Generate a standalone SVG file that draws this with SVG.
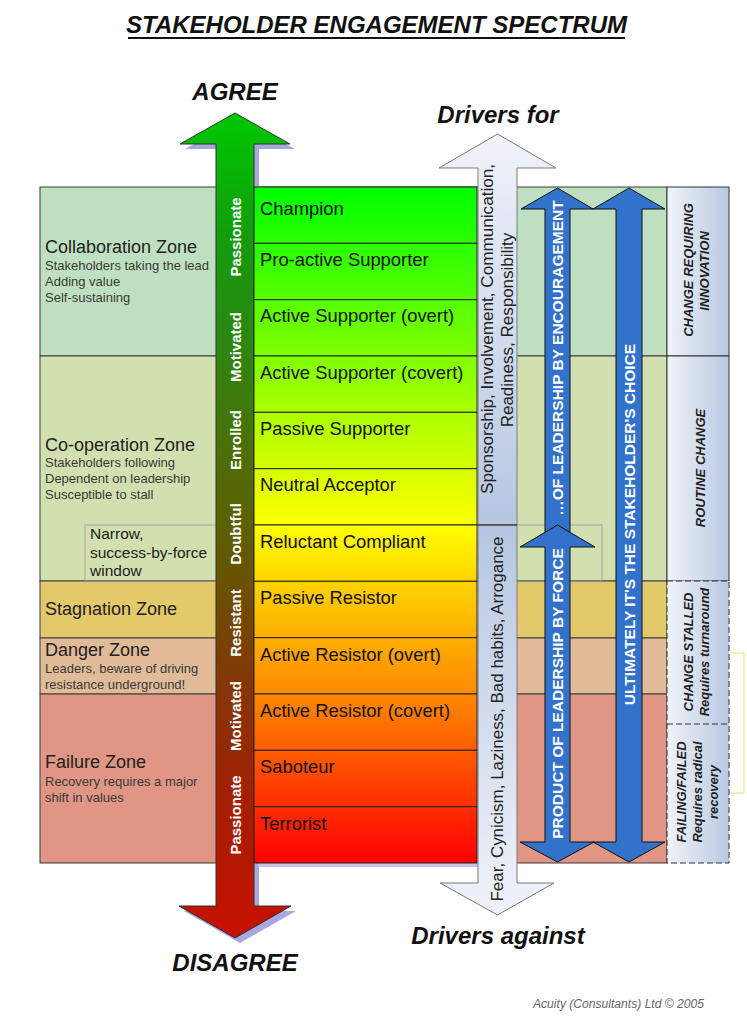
<svg xmlns="http://www.w3.org/2000/svg" width="747" height="1024" viewBox="0 0 747 1024">
<style>
.zone{stroke:#3a3a3a;stroke-width:1}
.zt{font-family:"Liberation Sans",Arial,sans-serif;font-size:18px;fill:#222}
.zs{font-family:"Liberation Sans",Arial,sans-serif;font-size:13px;fill:#3a3a3a}
.nt{font-family:"Liberation Sans",Arial,sans-serif;font-size:15.5px;fill:#222}
.st{font-family:"Liberation Sans",Arial,sans-serif;font-size:18.4px;fill:#111}
.srow{fill:url(#stateGrad);stroke:#222;stroke-width:1}
.lbl{font-family:"Liberation Sans",Arial,sans-serif;font-size:15px;font-weight:bold;fill:#fff;text-anchor:middle}
.blue{fill:#3372cb;stroke:#111;stroke-width:1}
.bt{font-family:"Liberation Sans",Arial,sans-serif;font-size:15.5px;font-weight:bold;fill:#fff;text-anchor:middle}
.dt{font-family:"Liberation Sans",Arial,sans-serif;font-size:17px;fill:#222;text-anchor:middle}
.big{font-family:"Liberation Sans",Arial,sans-serif;font-size:24px;font-weight:bold;font-style:italic;fill:#111;text-anchor:middle}
.rc{fill:url(#colGrad);stroke:#333;stroke-width:1}
.rt{font-family:"Liberation Sans",Arial,sans-serif;font-size:13px;font-weight:bold;font-style:italic;fill:#222;text-anchor:middle}
.drv{stroke:#7a7a7a;stroke-width:1}
</style>
<defs>
<linearGradient id="stateGrad" gradientUnits="userSpaceOnUse" x1="0" y1="187" x2="0" y2="863">
<stop offset="0" stop-color="#00ff00"/>
<stop offset="0.5" stop-color="#ffff00"/>
<stop offset="0.6" stop-color="#ffcc00"/>
<stop offset="0.75" stop-color="#ff8a00"/>
<stop offset="1" stop-color="#ff0000"/>
</linearGradient>
<linearGradient id="armGrad" gradientUnits="userSpaceOnUse" x1="0" y1="113" x2="0" y2="938">
<stop offset="0" stop-color="#00c800"/>
<stop offset="0.15" stop-color="#139c0c"/>
<stop offset="0.28" stop-color="#2d8610"/>
<stop offset="0.4" stop-color="#4a7008"/>
<stop offset="0.51" stop-color="#5e5e00"/>
<stop offset="0.62" stop-color="#744600"/>
<stop offset="0.73" stop-color="#8c3008"/>
<stop offset="0.85" stop-color="#a81c00"/>
<stop offset="1" stop-color="#c81000"/>
</linearGradient>
<linearGradient id="drvUp" gradientUnits="userSpaceOnUse" x1="0" y1="134" x2="0" y2="525">
<stop offset="0" stop-color="#f0f3fa"/>
<stop offset="1" stop-color="#b6c6e1"/>
</linearGradient>
<linearGradient id="drvDown" gradientUnits="userSpaceOnUse" x1="0" y1="525" x2="0" y2="915">
<stop offset="0" stop-color="#b6c6e1"/>
<stop offset="1" stop-color="#f0f3fa"/>
</linearGradient>
<linearGradient id="colGrad" x1="0" y1="0" x2="1" y2="0">
<stop offset="0" stop-color="#f0f3f9"/>
<stop offset="1" stop-color="#b8c8e2"/>
</linearGradient>
</defs>

<rect width="747" height="1024" fill="#fff"/>

<!-- Title -->
<text x="376.5" y="33" class="big">STAKEHOLDER ENGAGEMENT SPECTRUM</text>
<line x1="128" y1="38" x2="625" y2="38" stroke="#111" stroke-width="2"/>

<!-- Zones -->
<g id="zone-collaboration">
<rect class="zone" x="40" y="187" width="627" height="169" fill="#bfe0c0"/>
<text class="zt" x="45" y="253">Collaboration Zone</text>
<text class="zs" x="45" y="270">Stakeholders taking the lead</text>
<text class="zs" x="45" y="286">Adding value</text>
<text class="zs" x="45" y="302">Self-sustaining</text>
</g>
<g id="zone-cooperation">
<rect class="zone" x="40" y="356" width="627" height="225" fill="#d2e0b0"/>
<text class="zt" x="45" y="451">Co-operation Zone</text>
<text class="zs" x="45" y="467">Stakeholders following</text>
<text class="zs" x="45" y="483">Dependent on leadership</text>
<text class="zs" x="45" y="499">Susceptible to stall</text>
</g>
<g id="zone-stagnation">
<rect class="zone" x="40" y="581" width="627" height="57" fill="#e3c96a"/>
<text class="zt" x="45" y="615">Stagnation Zone</text>
</g>
<g id="zone-danger">
<rect class="zone" x="40" y="638" width="627" height="56" fill="#e1ba98"/>
<text class="zt" x="45" y="656">Danger Zone</text>
<text class="zs" x="45" y="673">Leaders, beware of driving</text>
<text class="zs" x="45" y="689">resistance underground!</text>
</g>
<g id="zone-failure">
<rect class="zone" x="40" y="694" width="627" height="169" fill="#e09585"/>
<text class="zt" x="45" y="768">Failure Zone</text>
<text class="zs" x="45" y="786">Recovery requires a major</text>
<text class="zs" x="45" y="802">shift in values</text>
</g>
<g id="narrow-window">
<rect x="85" y="525" width="517" height="56" fill="none" stroke="#9a9a9a" stroke-width="0.8"/>
<text class="nt" x="90" y="539">Narrow,</text>
<text class="nt" x="90" y="557.5">success-by-force</text>
<text class="nt" x="90" y="576">window</text>
</g>

<!-- Right column -->
<g id="col-innovation">
<rect class="rc" x="667" y="187" width="62" height="169"/>
<text class="rt" transform="translate(692.5,270) rotate(-90)">CHANGE REQUIRING</text>
<text class="rt" transform="translate(708.5,271) rotate(-90)">INNOVATION</text>
</g>
<g id="col-routine">
<rect class="rc" x="667" y="356" width="62" height="225"/>
<text class="rt" transform="translate(704.5,468) rotate(-90)">ROUTINE CHANGE</text>
</g>
<g id="col-stalled">
<rect x="667" y="581" width="62" height="282" fill="url(#colGrad)" stroke="#333" stroke-width="1" stroke-dasharray="6,3"/>
<line x1="667" y1="724" x2="729" y2="724" stroke="#333" stroke-width="1" stroke-dasharray="6,3"/>
<text class="rt" transform="translate(692.5,652) rotate(-90)">CHANGE STALLED</text>
<text class="rt" transform="translate(708.5,652) rotate(-90)">Requires turnaround</text>
</g>
<g id="col-failing">
<text class="rt" transform="translate(685.5,792) rotate(-90)">FAILING/FAILED</text>
<text class="rt" transform="translate(701.5,792) rotate(-90)">Requires radical</text>
<text class="rt" transform="translate(717.5,792) rotate(-90)">recovery</text>
</g>
<polyline points="730,653 744,653 744,793 730,793" fill="none" stroke="#e4de6a" stroke-width="1"/>

<!-- Agree / Disagree arrow -->
<g id="agree-arrow">
<path d="M240,118 L295,149 L259,149 L259,911 L296,911 L240,943 L184,911 L221,911 L221,149 L185,149 Z" fill="#a8a8de"/>
<path d="M235,113 L290,144 L254,144 L254,906 L291,906 L235,938 L179,906 L216,906 L216,144 L180,144 Z" fill="url(#armGrad)" stroke="#333" stroke-width="1"/>
<text class="lbl" transform="translate(240.5,237) rotate(-90)">Passionate</text>
<text class="lbl" transform="translate(240.5,347) rotate(-90)">Motivated</text>
<text class="lbl" transform="translate(240.5,440) rotate(-90)">Enrolled</text>
<text class="lbl" transform="translate(240.5,534) rotate(-90)">Doubtful</text>
<text class="lbl" transform="translate(240.5,623) rotate(-90)">Resistant</text>
<text class="lbl" transform="translate(240.5,716) rotate(-90)">Motivated</text>
<text class="lbl" transform="translate(240.5,815) rotate(-90)">Passionate</text>
<text class="big" x="235" y="100">AGREE</text>
<text class="big" x="235" y="971">DISAGREE</text>
</g>

<!-- States -->
<rect x="258" y="191" width="223" height="676" fill="#c2c4ea"/>
<g id="state-champion"><rect class="srow" x="254" y="187" width="223" height="56.3"/><text class="st" x="260" y="215">Champion</text></g>
<g id="state-proactive"><rect class="srow" x="254" y="243.3" width="223" height="56.4"/><text class="st" x="260" y="266">Pro-active Supporter</text></g>
<g id="state-active-overt"><rect class="srow" x="254" y="299.7" width="223" height="56.3"/><text class="st" x="260" y="322">Active Supporter (overt)</text></g>
<g id="state-active-covert"><rect class="srow" x="254" y="356" width="223" height="56.3"/><text class="st" x="260" y="379">Active Supporter (covert)</text></g>
<g id="state-passive-supporter"><rect class="srow" x="254" y="412.3" width="223" height="56.4"/><text class="st" x="260" y="435">Passive Supporter</text></g>
<g id="state-neutral"><rect class="srow" x="254" y="468.7" width="223" height="56.3"/><text class="st" x="260" y="491">Neutral Acceptor</text></g>
<g id="state-reluctant"><rect class="srow" x="254" y="525" width="223" height="56.3"/><text class="st" x="260" y="548">Reluctant Compliant</text></g>
<g id="state-passive-resistor"><rect class="srow" x="254" y="581.3" width="223" height="56.4"/><text class="st" x="260" y="604">Passive Resistor</text></g>
<g id="state-resistor-overt"><rect class="srow" x="254" y="637.7" width="223" height="56.3"/><text class="st" x="260" y="661">Active Resistor (overt)</text></g>
<g id="state-resistor-covert"><rect class="srow" x="254" y="694" width="223" height="56.3"/><text class="st" x="260" y="717">Active Resistor (covert)</text></g>
<g id="state-saboteur"><rect class="srow" x="254" y="750.3" width="223" height="56.4"/><text class="st" x="260" y="773">Saboteur</text></g>
<g id="state-terrorist"><rect class="srow" x="254" y="806.7" width="223" height="56.3"/><text class="st" x="260" y="830">Terrorist</text></g>

<!-- Drivers arrows -->
<g id="drivers-for">
<path class="drv" d="M497.5,134 L556,168 L517,168 L517,525 L478,525 L478,168 L439,168 Z" fill="url(#drvUp)"/>
<text class="dt" transform="translate(493,329) rotate(-90)" textLength="330" lengthAdjust="spacingAndGlyphs">Sponsorship, Involvement, Communication,</text>
<text class="dt" transform="translate(513,330) rotate(-90)">Readiness, Responsibility</text>
<text class="big" x="498" y="123">Drivers for</text>
</g>
<g id="drivers-against">
<path class="drv" d="M478,525 L517,525 L517,883 L554,883 L497.5,915 L440,883 L478,883 Z" fill="url(#drvDown)"/>
<line x1="477" y1="525" x2="517" y2="525" stroke="#222" stroke-width="1"/>
<text class="dt" transform="translate(503,719) rotate(-90)" textLength="365" lengthAdjust="spacingAndGlyphs">Fear, Cynicism, Laziness, Bad habits, Arrogance</text>
<text class="big" x="498" y="944">Drivers against</text>
</g>

<!-- Leadership arrows -->
<g id="connectors">
<g id="arrow-encouragement">
<path class="blue" d="M557.5,188 L593,209 L570,209 L570,540 L545,540 L545,209 L521,209 Z"/>
<text class="bt" transform="translate(563,358) rotate(-90)">…OF LEADERSHIP BY ENCOURAGEMENT</text>
</g>
<g id="arrow-force">
<path class="blue" d="M557.5,525 L595,547 L570,547 L570,842 L594,842 L557.5,862 L520,842 L545,842 L545,547 L520,547 Z"/>
<text class="bt" transform="translate(563,693.5) rotate(-90)">PRODUCT OF LEADERSHIP BY FORCE</text>
</g>
<g id="arrow-choice">
<path class="blue" d="M629,188 L665,209 L642,209 L642,842 L665,842 L629,862 L593,842 L616,842 L616,209 L593,209 Z"/>
<text class="bt" transform="translate(634.5,524.5) rotate(-90)">ULTIMATELY IT'S THE STAKEHOLDER'S CHOICE</text>
</g>
</g>

<text x="533" y="1008" font-family="'Liberation Sans',Arial,sans-serif" font-size="12" font-style="italic" fill="#666" textLength="171" lengthAdjust="spacingAndGlyphs">Acuity (Consultants) Ltd © 2005</text>
</svg>
